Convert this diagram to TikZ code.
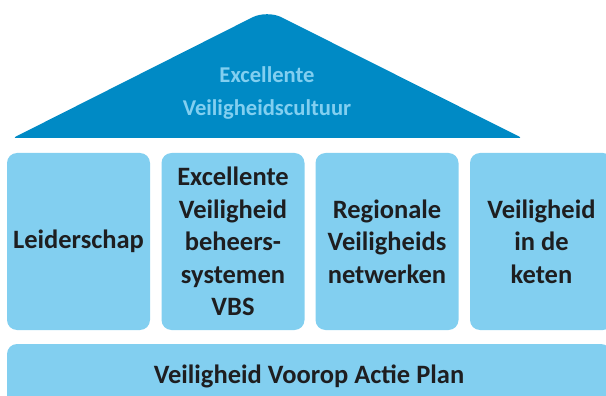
\documentclass[tikz,border=0pt]{standalone}
\usepackage{fontspec}
\setmainfont{Carlito}
\definecolor{roofblue}{RGB}{0,138,197}
\definecolor{pillarblue}{RGB}{130,207,240}
\definecolor{textdark}{RGB}{30,30,32}
\begin{document}
\begin{tikzpicture}[x=1pt,y=-1pt,
  txt/.style={font=\bfseries\fontsize{26.5}{32.5}\selectfont, align=center, inner sep=0pt},
  rooftxt/.style={font=\bfseries\fontsize{22.6}{33}\selectfont, align=center, inner sep=0pt, text=pillarblue},
  pillar/.style={txt, fill=pillarblue, text=textdark, rounded corners=10pt, minimum width=143pt, minimum height=177pt},
  basebar/.style={txt, fill=pillarblue, text=textdark, rounded corners=10pt, minimum width=604pt, minimum height=64pt}]
\useasboundingbox (0,0) rectangle (606,396);
\fill[roofblue] (13,138) [rounded corners=16pt] -- (267,10) [rounded corners=3pt] -- (522,138) [rounded corners=3pt] -- cycle;
\node[rooftxt] (roof) at (267,93) {Excellente\\Veiligheidscultuur};
\node[pillar] (p1) at (78.5,241.5) {Leiderschap};
\node[pillar] (p2) at (233,241.5) {Excellente\\Veiligheid\\beheers-\\systemen\\VBS};
\node[pillar] (p3) at (387,241.5) {Regionale\\Veiligheids\\netwerken};
\node[pillar] (p4) at (541.5,241.5) {Veiligheid\\in de\\keten};
\node[basebar] (base) at (309,376) {Veiligheid Voorop Actie Plan};
\end{tikzpicture}
\end{document}
